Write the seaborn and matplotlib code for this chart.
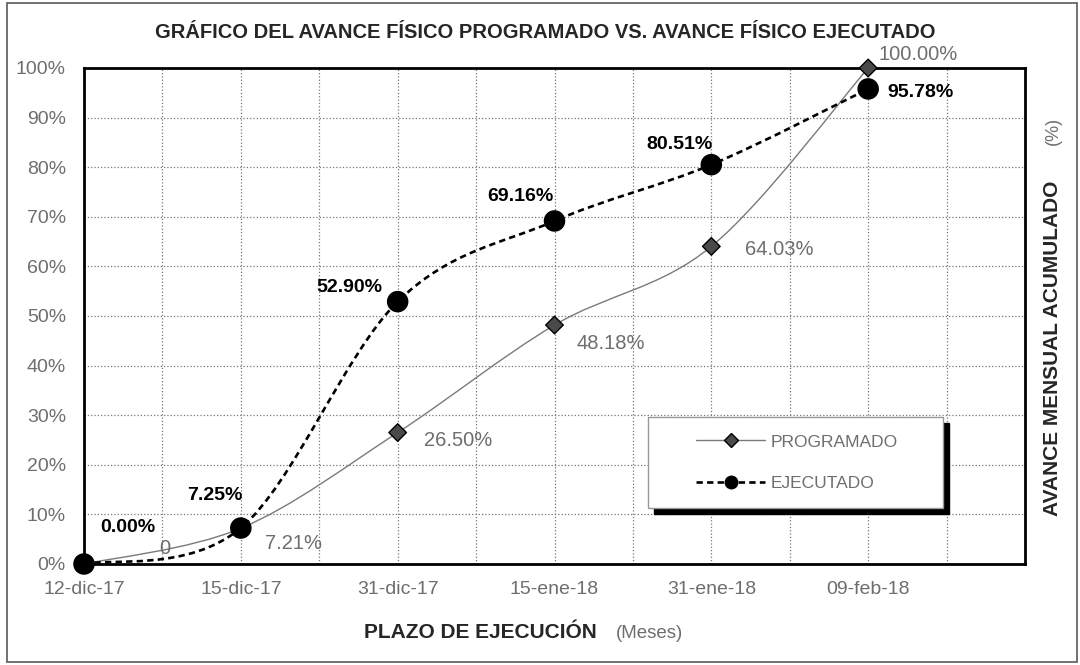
import numpy as np
import pandas as pd
import matplotlib
matplotlib.use('Agg')
import matplotlib.pyplot as plt
from matplotlib.path import Path
from matplotlib.patches import PathPatch, Rectangle
from matplotlib.lines import Line2D
import seaborn as sns

# datos
fechas = ['12-dic-17', '15-dic-17', '31-dic-17', '15-ene-18', '31-ene-18', '09-feb-18']
programado = [0.00, 7.21, 26.50, 48.18, 64.03, 100.00]
ejecutado = [0.00, 7.25, 52.90, 69.16, 80.51, 95.78]
etiq_prog = ['0', '7.21%', '26.50%', '48.18%', '64.03%', '100.00%']
etiq_ejec = ['0.00%', '7.25%', '52.90%', '69.16%', '80.51%', '95.78%']
yticks = list(range(0, 101, 10))

GRIS = '#6e6e6e'

sns.set_style('white')
plt.rcParams['font.family'] = ['Liberation Sans', 'DejaVu Sans']


def curva_suave(x, y):
    # bezier tipo "linea suavizada" de Excel
    p = np.column_stack([x, y]).astype(float)
    n = len(p)
    verts = [p[0]]
    codes = [Path.MOVETO]
    for i in range(n - 1):
        pm = p[i - 1] if i > 0 else p[i]
        pp = p[i + 2] if i + 2 < n else p[i + 1]
        c1 = p[i] + (p[i + 1] - pm) / 6
        c2 = p[i + 1] - (pp - p[i]) / 6
        verts += [c1, c2, p[i + 1]]
        codes += [Path.CURVE4] * 3
    return Path(verts, codes)


pos = np.arange(len(fechas))
df = pd.DataFrame({
    'pos': np.concatenate([pos, pos]),
    'avance': programado + ejecutado,
    'serie': ['PROGRAMADO'] * len(pos) + ['EJECUTADO'] * len(pos),
})

fig = plt.figure(figsize=(10.8, 6.65), dpi=100)
ax = fig.add_axes([84 / 1080, 1 - 564 / 665, 941 / 1080, 496 / 665])

ax.add_patch(PathPatch(curva_suave(pos, programado), fill=False, ec='#7a7a7a',
                       lw=1.0, zorder=2, clip_on=False))
ax.add_patch(PathPatch(curva_suave(pos, ejecutado), fill=False, ec='black',
                       lw=1.9, ls=(0, (2.4, 1.6)), zorder=2, clip_on=False))

sns.scatterplot(data=df, x='pos', y='avance', hue='serie', style='serie', size='serie',
                markers={'PROGRAMADO': 'D', 'EJECUTADO': 'o'},
                palette={'PROGRAMADO': '#4a4a4a', 'EJECUTADO': 'black'},
                sizes={'PROGRAMADO': 80, 'EJECUTADO': 210},
                edgecolor='black', linewidth=1, legend=False, zorder=3, clip_on=False, ax=ax)

ax.set_xlim(0, 6)
ax.set_ylim(0, 100)
ax.set_xticks(pos)
ax.set_xticklabels(fechas)
ax.set_xticks(np.arange(0.5, 6, 1), minor=True)
ax.set_yticks(yticks)
ax.set_yticklabels([f'{v}%' for v in yticks])
ax.tick_params(axis='both', which='both', length=0, labelsize=14, labelcolor=GRIS)
ax.tick_params(axis='y', pad=13)
ax.tick_params(axis='x', pad=12)
ax.grid(True, which='both', ls=':', lw=0.9, color='#777777')
ax.set_xlabel('')
ax.set_ylabel('')
for s in ax.spines.values():
    s.set_color('black')
    s.set_linewidth(2)

# etiquetas de datos
off_prog = [(81, 15), (24, -15), (26, -8), (22, -18), (34, -3), (10, 13)]
ha_prog = ['center', 'left', 'left', 'left', 'left', 'left']
for i, v in enumerate(programado):
    ax.annotate(etiq_prog[i], (pos[i], v), xytext=off_prog[i], textcoords='offset pixels',
                ha=ha_prog[i], va='center', fontsize=14.5, color=GRIS, zorder=4,
                annotation_clip=False)

off_ejec = [(16, 37), (2, 33), (-15, 14), (-1, 24), (1, 20), (19, -4)]
ha_ejec = ['left', 'right', 'right', 'right', 'right', 'left']
for i, v in enumerate(ejecutado):
    ax.annotate(etiq_ejec[i], (pos[i], v), xytext=off_ejec[i], textcoords='offset pixels',
                ha=ha_ejec[i], va='center', fontsize=14, fontweight='bold', color='black',
                zorder=4, annotation_clip=False)

# leyenda con sombra
ax.add_patch(Rectangle((0.6054, 0.101), 0.3135, 0.183, transform=ax.transAxes,
                       fc='black', ec='black', zorder=4.4))
ax.add_patch(Rectangle((0.599, 0.113), 0.3135, 0.183, transform=ax.transAxes,
                       fc='white', ec='#999999', lw=1, zorder=4.5))
handles = [
    Line2D([], [], color='#7a7a7a', lw=1, marker='D', markersize=7,
           mfc='#4a4a4a', mec='black', label='PROGRAMADO'),
    Line2D([], [], color='black', lw=1.9, ls=(0, (2.4, 1.6)), marker='o', markersize=9,
           mfc='black', mec='black', label='EJECUTADO'),
]
leg = ax.legend(handles=handles, loc='center left', bbox_to_anchor=(0.643, 0.2045),
                frameon=False, handlelength=4.0, handletextpad=0.3, labelspacing=1.5,
                fontsize=12.5, borderaxespad=0)
leg.set_zorder(5)
for t in leg.get_texts():
    t.set_color(GRIS)

# titulos
fig.text(545 / 1080, 1 - 33 / 665,
         'GRÁFICO DEL AVANCE FÍSICO PROGRAMADO VS. AVANCE FÍSICO EJECUTADO',
         ha='center', va='center', fontsize=14.5, fontweight='bold')
fig.text(597 / 1080, 1 - 633 / 665, 'PLAZO DE EJECUCIÓN', ha='right', va='center',
         fontsize=15, fontweight='bold')
fig.text(616 / 1080, 1 - 633 / 665, '(Meses)', ha='left', va='center',
         fontsize=13.5, color=GRIS)
fig.text(1053 / 1080, 1 - 348 / 665, 'AVANCE MENSUAL ACUMULADO', ha='center', va='center',
         rotation=90, fontsize=15, fontweight='bold')
fig.text(1053 / 1080, 1 - 131 / 665, '(%)', ha='center', va='center',
         rotation=90, fontsize=13, color=GRIS)

# borde del area del grafico
fig.add_artist(Rectangle((7 / 1080, 3 / 665), 1070 / 1080, 659 / 665,
                         transform=fig.transFigure, fill=False, ec='#666666', lw=1.3))

fig.savefig('out.png', dpi=100)
